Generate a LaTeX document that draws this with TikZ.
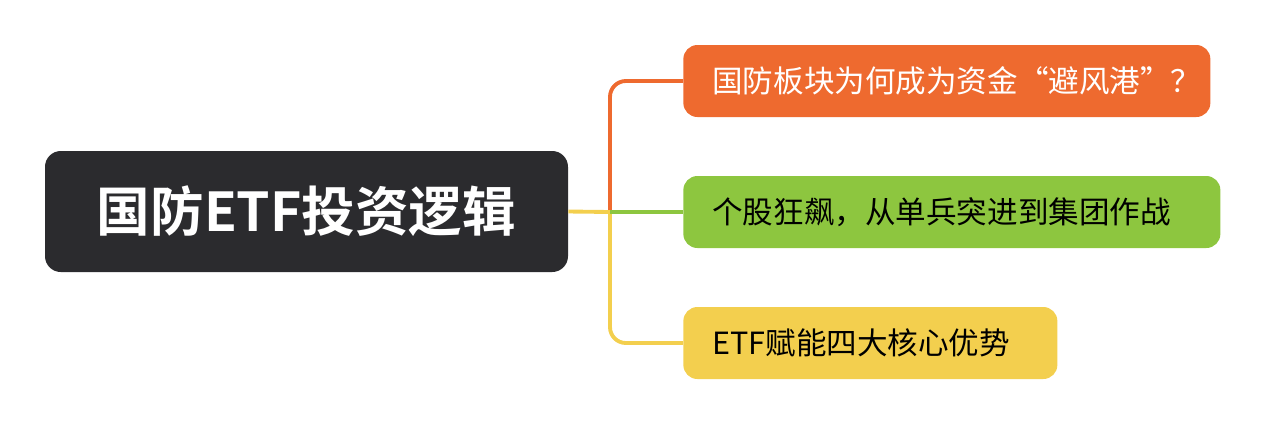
\documentclass[tikz,border=0pt]{standalone}
\usepackage{fontspec}
\newfontfamily\cjk{Noto Sans CJK SC}[BoldFont={Noto Sans CJK SC Bold}]
\definecolor{rootc}{HTML}{2B2B2E}
\definecolor{orc}{HTML}{EE6A2F}
\definecolor{grc}{HTML}{8DC63F}
\definecolor{yec}{HTML}{F3CF4E}
\begin{document}
\begin{tikzpicture}[x=0.02cm,y=-0.02cm,
  br/.style={rounded corners=8pt,minimum height=72*0.02cm,anchor=west,inner xsep=0pt,font=\cjk\fontsize{17.4}{20}\selectfont},
  ln/.style={line width=2.2pt,rounded corners=9pt}]
\useasboundingbox (0,0) rectangle (1265,424);
\node[fill=rootc,rounded corners=9pt,minimum width=523*0.02cm,minimum height=121*0.02cm,text=white,font=\cjk\bfseries\fontsize{30.5}{34}\selectfont] (root) at (306.5,211.5) {国防ETF投资逻辑};
\node[br,fill=orc,text=white,minimum width=527*0.02cm,text width=527*0.02cm-58*0.02cm,align=left] (a) at (683,81) {国防板块为何成为资金“避风港”？};
\node[br,fill=grc,minimum width=537*0.02cm,text width=537*0.02cm-58*0.02cm,align=left] (b) at (683,212) {个股狂飙，从单兵突进到集团作战};
\node[br,fill=yec,minimum width=374*0.02cm,text width=374*0.02cm-58*0.02cm,align=left] (c) at (683,343) {ETF赋能四大核心优势};
\coordinate (j) at (610,212);
\draw[ln,orc] (j) -- (610,81) -- (a.west);
\draw[ln,yec] (j) -- (610,343) -- (c.west);
\draw[ln,yec] (root.east) -- (j);
\draw[ln,grc] (j) -- (b.west);
\end{tikzpicture}
\end{document}
